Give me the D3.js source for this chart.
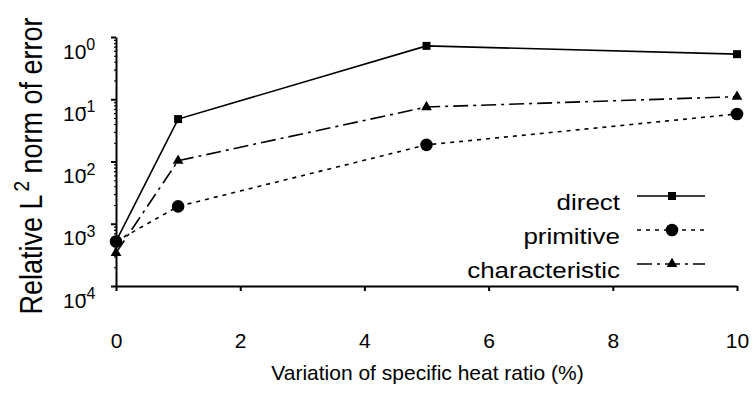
<!DOCTYPE html>
<html lang="en">
<head>
<meta charset="UTF-8">
<title>Relative L2 norm of error</title>
<script src="https://cdnjs.cloudflare.com/ajax/libs/d3/7.8.5/d3.min.js"></script>
<style>
  body { margin: 0; background: #fff; }
  svg { font-family: "Liberation Sans", Arial, sans-serif; }
  .axis path, .axis line { stroke: #000; }
</style>
</head>
<body>
<svg id="chart" width="756" height="396"></svg>
<script>
// data
const xValues = [0, 1, 5, 10];
const directErr = [5.2e-4, 0.048, 0.72, 0.53];
const primitiveErr = [5.2e-4, 0.0019, 0.0185, 0.058];
const characteristicErr = [3.4e-4, 0.0103, 0.075, 0.11];
const seriesNames = ['direct', 'primitive', 'characteristic'];
const xTicks = [0, 2, 4, 6, 8, 10];
const yDecades = [0, -1, -2, -3, -4];

const svg = d3.select('#chart');

const x = d3.scaleLinear().domain([0, 10]).range([116, 737]);
const y = d3.scaleLog().domain([1e-4, 1]).range([286, 37]);

const series = [
    { name: seriesNames[0], values: directErr, dash: null, marker: 'square' },
    { name: seriesNames[1], values: primitiveErr, dash: '4,5', marker: 'circle' },
    { name: seriesNames[2], values: characteristicErr, dash: '15,5,3,5', marker: 'triangle' }
];

// minor ticks on log axis
const minorVals = [];
yDecades.slice(1).forEach(d => {
    for (let k = 2; k <= 9; k++) minorVals.push(k * Math.pow(10, d));
});
svg.append('g')
    .attr('class', 'axis')
    .attr('transform', `translate(${x(0)},0)`)
    .call(d3.axisLeft(y).tickValues(minorVals).tickSize(2).tickFormat(''))
    .call(g => g.select('.domain').remove())
    .selectAll('line').attr('stroke-width', 1.2);

// y axis, labels as 10 with raised exponent (minus tucked into the 0 like the original)
const yAxis = svg.append('g')
    .attr('class', 'axis')
    .attr('transform', `translate(${x(0)},0)`)
    .call(d3.axisLeft(y)
        .tickValues(yDecades.map(d => Math.pow(10, d)))
        .tickSize(5).tickSizeOuter(0)
        .tickFormat(''));
yAxis.select('.domain').attr('stroke-width', 2);
yAxis.selectAll('.tick line').attr('stroke-width', 2);
yAxis.selectAll('.tick').each(function(v) {
    const e = Math.round(Math.log10(v));
    const t = d3.select(this).append('text')
        .attr('x', -53).attr('y', 21)
        .attr('fill', '#000')
        .attr('font-size', 21)
        .attr('text-anchor', 'start')
        .text('10');
    t.append('tspan')
        .attr('dx', e < 0 ? -5.3 : 0)
        .attr('dy', -8.5)
        .attr('font-size', 16)
        .text(e < 0 ? '-' + (-e) : String(e));
});

// x axis
const xAxis = svg.append('g')
    .attr('class', 'axis')
    .attr('transform', `translate(0,${y(1e-4)})`)
    .call(d3.axisBottom(x).tickValues(xTicks).tickSize(5).tickSizeOuter(0).tickPadding(42));
xAxis.select('.domain').attr('stroke-width', 2);
xAxis.selectAll('.tick line').attr('stroke-width', 2);
xAxis.selectAll('text').attr('font-size', 21).attr('font-family', null).attr('fill', '#000');

// axis titles
svg.append('text')
    .attr('x', (x(0) + x(10)) / 2 + 1)
    .attr('y', 380)
    .attr('text-anchor', 'middle')
    .attr('font-size', 21)
    .text('Variation of specific heat ratio (%)');

const yt = svg.append('g')
    .attr('transform', 'translate(42,166) scale(1.18,1) rotate(-90)')
    .append('text')
    .attr('text-anchor', 'middle')
    .attr('font-size', 27);
yt.append('tspan').text('Relative L');
yt.append('tspan').attr('font-size', 19).attr('dy', -11).attr('dx', 3).text('2');
yt.append('tspan').attr('dy', 11).text(' norm of error');

// markers
function drawMarker(g, type, cx, cy) {
    if (type === 'square') {
        g.append('rect').attr('x', cx - 4).attr('y', cy - 4).attr('width', 8).attr('height', 8).attr('fill', '#000');
    } else if (type === 'circle') {
        g.append('circle').attr('cx', cx).attr('cy', cy).attr('r', 6.3).attr('fill', '#000');
    } else {
        g.append('path')
            .attr('d', d3.symbol().type(d3.symbolTriangle).size(50)())
            .attr('transform', `translate(${cx},${cy})`)
            .attr('fill', '#000');
    }
}

const line = d3.line().x((d, i) => x(xValues[i])).y(d => y(d));

// draw in reverse so direct ends up on top
series.slice().reverse().forEach(s => {
    const g = svg.append('g');
    g.append('path')
        .datum(s.values)
        .attr('d', line)
        .attr('fill', 'none')
        .attr('stroke', '#000')
        .attr('stroke-width', 1.6)
        .attr('stroke-dasharray', s.dash);
    s.values.forEach((v, i) => drawMarker(g, s.marker, x(xValues[i]), y(v)));
});

// legend
series.forEach((s, i) => {
    const base = 210 + i * 34;
    const lg = svg.append('g');
    lg.append('g')
        .attr('transform', `translate(620,${base}) scale(1.18,1)`)
        .append('text')
        .attr('text-anchor', 'end')
        .attr('font-size', 22)
        .text(s.name);
    lg.append('line')
        .attr('x1', 637).attr('x2', 705)
        .attr('y1', base - 14).attr('y2', base - 14)
        .attr('stroke', '#000')
        .attr('stroke-width', 1.6)
        .attr('stroke-dasharray', s.dash);
    drawMarker(lg, s.marker, 672, base - 14);
});
</script>
</body>
</html>
